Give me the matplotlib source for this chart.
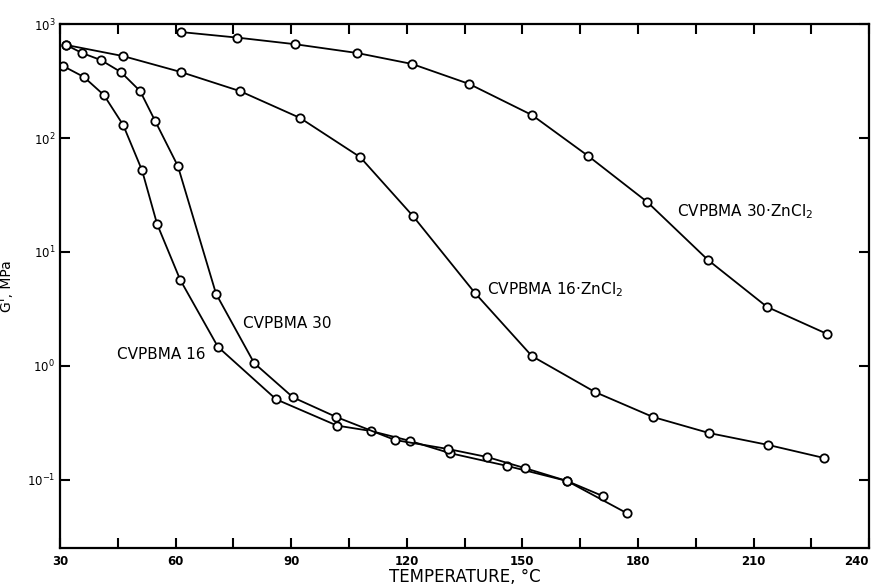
import numpy as np
import matplotlib.pyplot as plt
from matplotlib.ticker import LogLocator, MultipleLocator, NullLocator

# data: temperature (C) and G' (MPa)
t_16 = [30.8, 36.2, 41.4, 46.4, 51.3, 55.2, 61.2, 71.0, 86.1, 101.9, 110.7, 120.9, 131.2, 146.0, 161.6, 177.2]
g_16 = [428, 343, 238, 130, 52, 17.6, 5.7, 1.47, 0.51, 0.30, 0.269, 0.22, 0.172, 0.133, 0.098, 0.051]

t_30 = [31.6, 35.7, 40.6, 45.8, 50.8, 54.7, 60.6, 70.5, 80.4, 90.5, 101.7, 117.0, 130.7, 140.9, 150.7, 161.6, 171.0]
g_30 = [655, 557, 483, 379, 258, 141, 56.7, 4.3, 1.06, 0.53, 0.357, 0.224, 0.187, 0.159, 0.127, 0.098, 0.072]

t_16zn = [31.6, 46.4, 61.4, 76.7, 92.3, 107.9, 121.6, 137.7, 152.5, 168.9, 183.9, 198.5, 213.8, 228.3]
g_16zn = [655, 523, 379, 258, 150, 68, 20.7, 4.37, 1.22, 0.59, 0.357, 0.258, 0.203, 0.156]

t_30zn = [61.4, 76.0, 91.0, 107.1, 121.4, 136.2, 152.5, 167.1, 182.4, 198.2, 213.5, 229.1]
g_30zn = [850, 760, 665, 557, 446, 298, 159, 69.5, 27.5, 8.5, 3.3, 1.91]

fig = plt.figure(figsize=(8.77, 5.87), dpi=100)
ax = fig.add_axes([0.0684, 0.0664, 0.9226, 0.8927])

for t, g in [(t_16, g_16), (t_30, g_30), (t_16zn, g_16zn), (t_30zn, g_30zn)]:
    ax.plot(t, g, color='black', lw=1.3, marker='o', ms=6, mfc='white',
            mec='black', mew=1.3)

ax.set_yscale('log')
ax.set_xlim(30, 240)
ax.set_ylim(0.0253, 1000)

ax.xaxis.set_major_locator(MultipleLocator(30))
ax.xaxis.set_minor_locator(MultipleLocator(15))
ax.yaxis.set_major_locator(LogLocator(base=10, numticks=10))
ax.yaxis.set_minor_locator(NullLocator())
ax.tick_params(axis='both', which='both', direction='in', top=True, right=True,
               width=1.5, labelsize=8.5)
ax.tick_params(which='major', length=7)
ax.tick_params(which='minor', length=7)
ax.tick_params(axis='x', pad=5)
for s in ax.spines.values():
    s.set_linewidth(1.6)

ax.set_xlabel('TEMPERATURE, \u00b0C', fontsize=12, labelpad=0)
ax.set_ylabel("G', MPa", fontsize=10)
ax.yaxis.set_label_coords(-0.057, 0.5)

ax.text(44.8, 1.25, 'CVPBMA 16', fontsize=11, ha='left', va='center')
ax.text(77.5, 2.38, 'CVPBMA 30', fontsize=11, ha='left', va='center')
ax.text(140.9, 4.64, 'CVPBMA 16\u00b7ZnCl$_2$', fontsize=11, ha='left', va='center')
ax.text(190.2, 22.4, 'CVPBMA 30\u00b7ZnCl$_2$', fontsize=11, ha='left', va='center')

# bold x tick labels, keep the last one inside the picture
fig.canvas.draw()
xlabs = [lab for lab in ax.get_xticklabels() if lab.get_text()]
for lab in xlabs:
    lab.set_fontweight('bold')
    if lab.get_text() == '240':
        lab.set_horizontalalignment('right')

fig.savefig('out.png', dpi=100)
